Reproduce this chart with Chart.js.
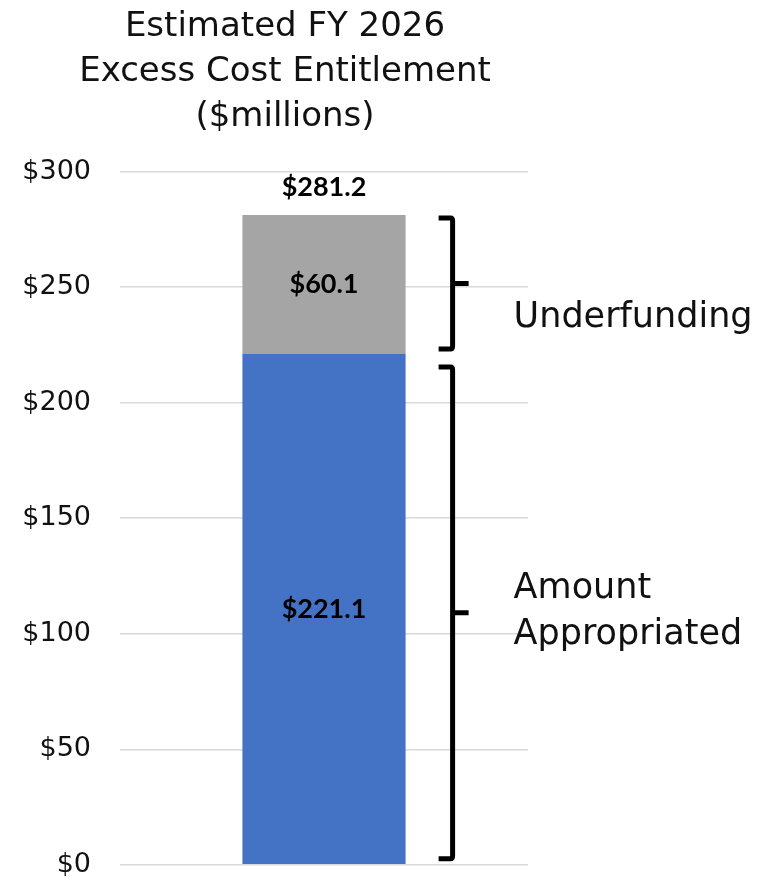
<!DOCTYPE html>
<html>
<head>
<meta charset="utf-8">
<script src="https://cdn.jsdelivr.net/npm/chart.js@4.4.1/dist/chart.umd.min.js"></script>
<style>
  html, body { margin: 0; padding: 0; background: #fff; overflow: hidden; }
  #wrap { width: 775px; height: 910px; position: relative; }
</style>
</head>
<body>
<div id="wrap"><canvas id="chart"></canvas></div>
<script>
const categories = ["FY 2026"];
const appropriated = [221.1];
const underfunding = [60.1];
const totals = [281.2];
const yTicks = [0, 50, 100, 150, 200, 250, 300];
const titleLines = ["Estimated FY 2026", "Excess Cost Entitlement", "($millions)"];

const FONT = "'DejaVu Sans', sans-serif";
const BOLD_FONT = "Lato, 'DejaVu Sans', sans-serif";

// draws the value labels, the braces and the side labels
const annotations = {
  id: "annotations",
  afterDatasetsDraw(chart) {
    const ctx = chart.ctx;
    const y = chart.scales.y;
    const barBlue = chart.getDatasetMeta(0).data[0];
    const barGrey = chart.getDatasetMeta(1).data[0];

    ctx.save();
    ctx.fillStyle = "#000";
    ctx.font = "bold 27px " + BOLD_FONT;
    ctx.textAlign = "center";
    ctx.textBaseline = "middle";
    ctx.fillText("$" + appropriated[0].toFixed(1), barBlue.x, (barBlue.y + barBlue.base) / 2);
    ctx.fillText("$" + underfunding[0].toFixed(1), barGrey.x, (barGrey.y + barGrey.base) / 2);
    ctx.fillText("$" + totals[0].toFixed(1), barGrey.x, barGrey.y - 28);

    const bx = barGrey.x + barGrey.width / 2 + 47;
    function brace(top, bottom) {
      const mid = (top + bottom) / 2;
      ctx.beginPath();
      ctx.moveTo(bx - 14, top);
      ctx.lineTo(bx - 2, top);
      ctx.quadraticCurveTo(bx, top, bx, top + 3);
      ctx.lineTo(bx, bottom - 3);
      ctx.quadraticCurveTo(bx, bottom, bx - 2, bottom);
      ctx.lineTo(bx - 14, bottom);
      ctx.moveTo(bx, mid);
      ctx.lineTo(bx + 16, mid);
      ctx.stroke();
      return mid;
    }
    ctx.strokeStyle = "#000";
    ctx.lineWidth = 5;
    ctx.lineJoin = "round";
    const m1 = brace(y.getPixelForValue(totals[0]) + 3, y.getPixelForValue(appropriated[0]) - 5);
    const m2 = brace(y.getPixelForValue(appropriated[0]) + 13, y.getPixelForValue(0) - 6);

    ctx.font = "35px " + FONT;
    ctx.textAlign = "left";
    ctx.fillStyle = "#111";
    ctx.fillText("Underfunding", bx + 61, m1 + 34);
    ctx.fillText("Amount", bx + 61, m2 - 24);
    ctx.fillText("Appropriated", bx + 61, m2 + 22);
    ctx.restore();
  }
};

new Chart(document.getElementById("chart"), {
  type: "bar",
  data: {
    labels: categories,
    datasets: [
      {
        label: "Amount Appropriated",
        data: appropriated,
        backgroundColor: "#4472C4",
        categoryPercentage: 0.4,
        barPercentage: 1
      },
      {
        label: "Underfunding",
        data: underfunding,
        backgroundColor: "#A5A5A5",
        categoryPercentage: 0.4,
        barPercentage: 1
      }
    ]
  },
  options: {
    responsive: true,
    maintainAspectRatio: false,
    animation: false,
    layout: { padding: { left: 8, right: 213, top: 5, bottom: 4 } },
    plugins: {
      legend: { display: false },
      tooltip: { enabled: false },
      title: {
        display: true,
        text: titleLines,
        color: "#111",
        font: { family: FONT, size: 34, weight: "normal", lineHeight: 1.32 },
        padding: { top: 0, bottom: 32 }
      }
    },
    scales: {
      x: {
        stacked: true,
        display: false
      },
      y: {
        stacked: true,
        min: 0,
        max: 300,
        afterBuildTicks: s => { s.ticks = yTicks.map(v => ({ value: v })); },
        afterFit: s => { s.width = 112; },
        border: { display: false },
        grid: { color: "#d9d9d9", lineWidth: 1.5, drawTicks: false },
        ticks: {
          color: "#111",
          padding: 29,
          font: { family: FONT, size: 27 },
          callback: v => "$" + v
        }
      },
      y2: {
        position: "right",
        display: true,
        grid: { display: false },
        border: { display: false },
        ticks: { display: false },
        afterFit: s => { s.width = 34; }
      }
    }
  },
  plugins: [annotations]
});
</script>
</body>
</html>
